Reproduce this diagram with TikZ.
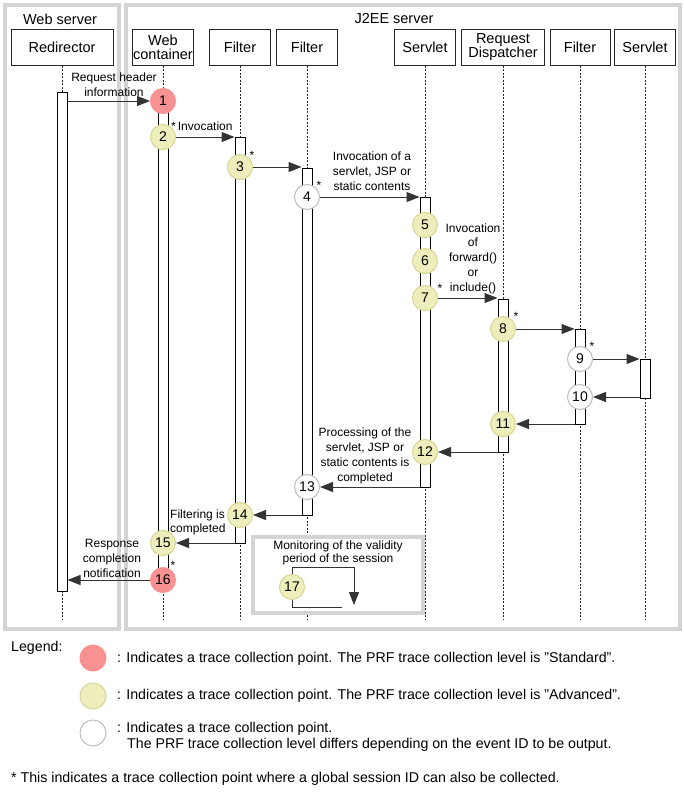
\documentclass[tikz,border=0pt]{standalone}
\usepackage{fontspec}
\setmainfont{Liberation Sans}
\usetikzlibrary{arrows.meta}
\definecolor{framegray}{HTML}{D4D4D4}
\definecolor{redfill}{HTML}{F89292}
\definecolor{yelfill}{HTML}{EEEEBC}
\definecolor{yeldraw}{HTML}{D6D694}
\definecolor{whdraw}{HTML}{BDBDBD}
\begin{document}
\begin{tikzpicture}[x=1pt,y=-1pt,
  frame/.style={draw=framegray,line width=4pt},
  head/.style={draw=black!85,fill=white,line width=1pt,minimum height=36pt,inner sep=0.5pt,align=center,font=\fontsize{14.5}{14}\selectfont},
  life/.style={draw=black!85,line width=1pt,dash pattern=on 2pt off 1.5pt},
  bar/.style={draw=black,fill=white,line width=1pt,minimum width=10pt,inner sep=0pt,anchor=north},
  pt/.style={circle,minimum size=25pt,inner sep=0pt,line width=1pt,font=\fontsize{14}{14}\selectfont},
  std/.style={pt,fill=redfill,draw=redfill},
  adv/.style={pt,fill=yelfill,draw=yeldraw},
  var/.style={pt,fill=white,draw=whdraw},
  msg/.style={draw=black!80,line width=1pt,-{Triangle[length=13pt,width=10pt]}},
  lbl/.style={font=\fontsize{12}{15}\selectfont,align=center,inner sep=0pt},
  star/.style={font=\fontsize{12}{12}\selectfont,inner sep=0pt},
  ttl/.style={font=\fontsize{14.5}{14}\selectfont,inner sep=0pt},
  leg/.style={font=\fontsize{14.2}{16}\selectfont,inner sep=0pt,anchor=west,align=left},
]
\useasboundingbox (0,0) rectangle (684,796);
% frames
\draw[frame] (5,5) rectangle (119,629);
\draw[frame] (126,5) rectangle (680,629);
\node[ttl] (tW) at (60,19) {Web server};
\node[ttl] (tJ) at (394,19) {J2EE server};
% headers
\node[head,minimum width=102pt] (hR) at (62,47) {Redirector};
\node[head,minimum width=60pt] (hW) at (163,47) {Web\\container};
\node[head,minimum width=61pt] (hF1) at (240,47) {Filter};
\node[head,minimum width=61pt] (hF2) at (307,47) {Filter};
\node[head,minimum width=61pt] (hS1) at (425,47) {Servlet};
\node[head,minimum width=83pt] (hD) at (503,47) {Request\\Dispatcher};
\node[head,minimum width=60pt] (hF3) at (580,47) {Filter};
\node[head,minimum width=61pt] (hS2) at (645,47) {Servlet};
% lifelines
\coordinate (lb) at (0,620);
\foreach \h in {hR,hW,hF1,hF2,hS1,hD,hF3,hS2}
  \draw[life] (\h.south) -- (\h.south |- lb);
% monitoring frame
\draw[frame,fill=white] (253,537) rectangle (423,613);
\node[lbl,font=\fontsize{12}{13}\selectfont] (mon) at (338,552.5) {Monitoring of the validity\\period of the session};
% bars
\node[bar,minimum height=499pt] (bR) at (62,92) {};
\node[bar,minimum height=479pt] (bW) at (163,101) {};
\node[bar,minimum height=406pt] (bF1) at (240,137) {};
\node[bar,minimum height=347pt] (bF2) at (307,168) {};
\node[bar,minimum height=290pt] (bS1) at (425,197) {};
\node[bar,minimum height=153pt] (bD) at (503,299) {};
\node[bar,minimum height=95pt] (bF3) at (580,329) {};
\node[bar,minimum height=39pt] (bS2) at (645,359) {};
% points
\node[std] (c1) at (163,101) {1};
\node[adv] (c2) at (163,137) {2};
\node[adv] (c3) at (240,167) {3};
\node[var] (c4) at (307,197) {4};
\node[adv] (c5) at (425,225) {5};
\node[adv] (c6) at (425,261) {6};
\node[adv] (c7) at (425,298) {7};
\node[adv] (c8) at (503,329) {8};
\node[var] (c9) at (580,359) {9};
\node[var] (c10) at (580,397) {10};
\node[adv] (c11) at (503,424) {11};
\node[adv] (c12) at (425,452) {12};
\node[var] (c13) at (307,487) {13};
\node[adv] (c14) at (240,515) {14};
\node[adv] (c15) at (163,543) {15};
\node[std] (c16) at (163,580) {16};
\node[adv] (c17) at (292,587) {17};
% messages
\draw[msg] (bR.east |- c1) -- (c1.west);
\draw[msg] (c2.east) -- (c2.east -| bF1.west);
\draw[msg] (c3.east) -- (c3.east -| bF2.west);
\draw[msg] (c4.east) -- (c4.east -| bS1.west);
\draw[msg] (c7.east) -- (c7.east -| bD.west);
\draw[msg] (c8.east) -- (c8.east -| bF3.west);
\draw[msg] (c9.east) -- (c9.east -| bS2.west);
\draw[msg] (bS2.west |- c10) -- (c10.east);
\draw[msg] (bF3.west |- c11) -- (c11.east);
\draw[msg] (bD.west |- c12) -- (c12.east);
\draw[msg] (bS1.west |- c13) -- (c13.east);
\draw[msg] (bF2.west |- c14) -- (c14.east);
\draw[msg] (bF1.west |- c15) -- (c15.east);
\draw[msg] (c16.west) -- (c16.west -| bR.east);
% self loop 17
\coordinate (m1) at (354,567);
\coordinate (m2) at (354,605);
\coordinate (m3) at (342,607);
\draw[msg] (c17.north) |- (m1) -- (m2);
\draw[draw=black!80,line width=1pt] (c17.south) |- (m3);
% labels
\node[lbl] (l1) at (114,85) {Request header\\information};
\node[lbl,anchor=west] (l2) at (171,126) {*\,Invocation};
\node[star] (s3) at (252,155) {*};
\node[star] (s4) at (319,185) {*};
\node[lbl] (l4) at (372,171) {Invocation of a\\servlet, JSP or\\static contents};
\node[lbl,font=\fontsize{12}{14.8}\selectfont] (l7) at (473,258.5) {Invocation\\of\\forward()\\or\\include()};
\node[star] (s7) at (440,288) {*};
\node[star] (s8) at (516,316) {*};
\node[star] (s9) at (592,346) {*};
\node[lbl] (l12) at (365,455.5) {Processing of the\\servlet, JSP or\\static contents is\\completed};
\node[lbl,align=left,anchor=west,font=\fontsize{12}{14}\selectfont] (l14) at (170,522) {Filtering is\\completed};
\node[lbl] (l16) at (112,558) {Response\\completion\\notification};
\node[star] (s16) at (173,565) {*};
% legend
\node[leg] (lg) at (11,648) {Legend:};
\node[pt,fill=redfill,draw=redfill,minimum size=26pt] (g1) at (93,658) {};
\node[pt,fill=yelfill,draw=yeldraw,minimum size=26pt] (g2) at (93,696) {};
\node[pt,fill=white,draw=whdraw,minimum size=26pt] (g3) at (93,733) {};
\node[leg] (t1) at (117,659) {: Indicates a trace collection point. The PRF trace collection level is "Standard".};
\node[leg] (t2) at (117,696) {: Indicates a trace collection point. The PRF trace collection level is "Advanced".};
\node[leg] (t3) at (117,737) {: Indicates a trace collection point.\\\hspace*{10pt}The PRF trace collection level differs depending on the event ID to be output.};
\node[leg] (fn) at (11,779) {* This indicates a trace collection point where a global session ID can also be collected.};
\end{tikzpicture}
\end{document}
